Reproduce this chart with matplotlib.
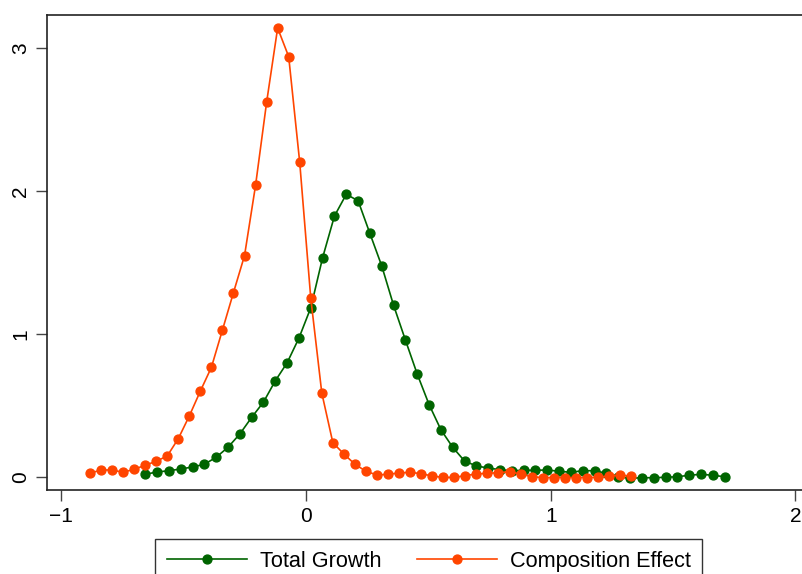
import numpy as np
import matplotlib
matplotlib.use("Agg")
import matplotlib.pyplot as plt

plt.rcParams['font.family'] = ['Liberation Sans', 'DejaVu Sans']

# Total Growth (green): 50 points
tg_x_start, tg_x_end = -0.657, 1.711
tg_y = [0.019, 0.035, 0.044, 0.056, 0.070, 0.089, 0.138, 0.208, 0.301, 0.417,
        0.524, 0.673, 0.799, 0.972, 1.184, 1.534, 1.825, 1.977, 1.932, 1.703,
        1.476, 1.201, 0.958, 0.720, 0.507, 0.331, 0.208, 0.112, 0.077, 0.063,
        0.051, 0.044, 0.047, 0.047, 0.049, 0.040, 0.033, 0.044, 0.044, 0.026,
        0.002, -0.009, -0.005, -0.005, -0.002, 0.002, 0.012, 0.019, 0.012, 0.002]

# Composition Effect (orange): 50 points
ce_x_start, ce_x_end = -0.883, 1.328
ce_y = [0.026, 0.049, 0.049, 0.033, 0.054, 0.082, 0.110, 0.147, 0.268, 0.427,
        0.601, 0.767, 1.028, 1.290, 1.548, 2.040, 2.620, 3.140, 2.940, 2.200,
        1.250, 0.587, 0.240, 0.161, 0.089, 0.040, 0.014, 0.019, 0.028, 0.033,
        0.023, 0.007, -0.003, -0.003, 0.010, 0.021, 0.026, 0.030, 0.037, 0.021,
        0.002, -0.004, -0.004, -0.004, -0.004, -0.004, -0.002, 0.007, 0.012, 0.007]

tg_x = np.linspace(tg_x_start, tg_x_end, len(tg_y))
ce_x = np.linspace(ce_x_start, ce_x_end, len(ce_y))

labels = ["Total Growth", "Composition Effect"]
xticks = [-1, 0, 1, 2]
yticks = [0, 1, 2, 3]

fig = plt.figure(figsize=(8.02, 5.74), dpi=100)
ax = fig.add_axes([47/802, 1-490/574, 1-47/802, (490-15)/574])

green = "#006400"
orange = "#FF4500"
ax.plot(tg_x, tg_y, color=green, lw=1.2, marker='o', ms=6.4, mec=green, mfc=green,
        label=labels[0], zorder=3)
ax.plot(ce_x, ce_y, color=orange, lw=1.2, marker='o', ms=6.4, mec=orange, mfc=orange,
        label=labels[1], zorder=3)

ax.set_xlim(-1.0585, 2.027)
ax.set_ylim(-0.0909, 3.231)
ax.set_xticks(xticks)
ax.set_yticks(yticks)
ax.set_xticklabels(["\u22121", "0", "1", "2"])
ax.tick_params(axis='both', length=8, width=1, color='#444444', labelsize=15, pad=4)
for lab in ax.get_yticklabels():
    lab.set_rotation(90)
    lab.set_va('center')
ax.spines['right'].set_visible(False)
for s in ['left', 'top', 'bottom']:
    ax.spines[s].set_linewidth(1.2)
    ax.spines[s].set_color('#222222')

leg = ax.legend(loc='upper left', bbox_to_anchor=(155/802, 1-539/574),
                bbox_transform=fig.transFigure, ncol=2, fontsize=15.6,
                frameon=True, fancybox=False, edgecolor='black',
                handlelength=3.7, handletextpad=0.58, columnspacing=1.65,
                borderpad=0.55, borderaxespad=0)
leg.get_frame().set_linewidth(1.0)

fig.savefig("out.png", dpi=100)
